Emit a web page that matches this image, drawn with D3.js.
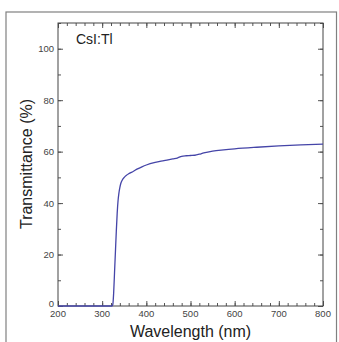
<!DOCTYPE html>
<html><head><meta charset="utf-8">
<script src="https://cdn.jsdelivr.net/npm/d3@7"></script>
<style>body{margin:0;background:#fff}svg{display:block}</style>
</head><body><svg id="c" width="339" height="342"></svg>
<script>
const wavelengths = [200,250,300,318,322,324,326,328,330,332,334,336,338,340,342,345,350,355,360,370,380,390,400,420,440,460,470,480,490,500,510,520,530,550,575,600,650,700,750,800];
const transmittance = [0,0,0,0,0,0.5,5,13,21,29,36,41,44,46,47.5,48.8,50,50.8,51.4,52.3,53.3,54.1,54.8,55.8,56.5,57.2,57.5,58.2,58.4,58.5,58.6,59.0,59.5,60.2,60.7,61.1,61.7,62.2,62.6,62.9];
const xTicks = [200,300,400,500,600,700,800];
const yTicks = [0,20,40,60,80,100];
const label = "CsI:Tl";

const svg = d3.select("#c");
const m = {l:58, r:323, t:23, b:306};
const x = d3.scaleLinear().domain([200,800]).range([m.l,m.r]);
const y = d3.scaleLinear().domain([0,110]).range([m.b,m.t]);

svg.append("rect").attr("x",6).attr("y",12).attr("width",330.5).attr("height",340)
  .attr("fill","none").attr("stroke","#808080").attr("stroke-width",1.2);

const tc = "#555";
function addAxis(axis, tr){
  const g = svg.append("g").attr("transform",tr).call(axis);
  g.select(".domain").remove();
  g.selectAll("line").attr("stroke",tc);
  return g;
}
const xMinor = d3.range(200,801,20);
const yMinor = d3.range(0,111,10);
addAxis(d3.axisTop(x).tickValues(xMinor).tickSize(3).tickFormat(""), `translate(0,${m.b})`);
addAxis(d3.axisTop(x).tickValues(xTicks).tickSize(5).tickFormat(""), `translate(0,${m.b})`);
addAxis(d3.axisBottom(x).tickValues(xMinor).tickSize(3).tickFormat(""), `translate(0,${m.t})`);
addAxis(d3.axisBottom(x).tickValues(xTicks).tickSize(5).tickFormat(""), `translate(0,${m.t})`);
addAxis(d3.axisRight(y).tickValues(yMinor).tickSize(3).tickFormat(""), `translate(${m.l},0)`);
addAxis(d3.axisRight(y).tickValues(yTicks).tickSize(5).tickFormat(""), `translate(${m.l},0)`);
addAxis(d3.axisLeft(y).tickValues(yMinor).tickSize(3).tickFormat(""), `translate(${m.r},0)`);
addAxis(d3.axisLeft(y).tickValues(yTicks).tickSize(5).tickFormat(""), `translate(${m.r},0)`);

const lf = "Liberation Sans, Arial, sans-serif";
svg.append("g").selectAll("text").data(xTicks).join("text")
  .attr("x",d=>x(d)).attr("y",m.b+11).attr("text-anchor","middle")
  .attr("font-family",lf).attr("font-size",9.5).attr("fill","#444").text(d=>d);
svg.append("g").selectAll("text").data(yTicks).join("text")
  .attr("x",m.l-4).attr("y",d=>y(d)+(d===0?0.5:3.5)).attr("text-anchor","end")
  .attr("font-family",lf).attr("font-size",9.5).attr("fill","#444").text(d=>d);

svg.append("rect").attr("x",m.l).attr("y",m.t).attr("width",m.r-m.l).attr("height",m.b-m.t)
  .attr("fill","none").attr("stroke","#444").attr("stroke-width",1);

const data = wavelengths.map((w,i)=>({w,t:transmittance[i]}));
svg.append("path").datum(data)
  .attr("d",d3.line().x(d=>x(d.w)).y(d=>y(d.t)).curve(d3.curveMonotoneX))
  .attr("fill","none").attr("stroke","#4545a8").attr("stroke-width",1.3);

svg.append("text").attr("x",76).attr("y",44).attr("font-family",lf).attr("font-size",14)
  .attr("fill","#222").text(label);

svg.append("text").attr("x",(m.l+m.r)/2).attr("y",337).attr("text-anchor","middle")
  .attr("font-family",lf).attr("font-size",16).attr("fill","#222").text("Wavelength (nm)");
svg.append("text").attr("transform",`translate(32,164) rotate(-90)`).attr("text-anchor","middle")
  .attr("font-family",lf).attr("font-size",16).attr("fill","#222").text("Transmittance (%)");
</script></body></html>
